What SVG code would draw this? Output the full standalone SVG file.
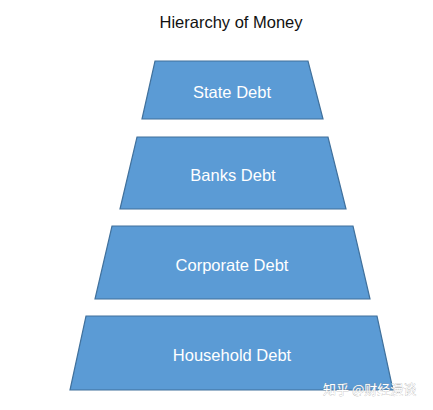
<svg xmlns="http://www.w3.org/2000/svg" width="433" height="410" viewBox="0 0 433 410">
<style>
.tier{fill:#5B9BD5;stroke:#41719C;stroke-width:1.2}
.lbl{font-family:"Liberation Sans",Arial,sans-serif;font-size:16.5px;fill:#FFFFFF;text-anchor:middle}
.title{font-family:"Liberation Sans",Arial,sans-serif;font-size:16.5px;fill:#111111;text-anchor:middle}
.wm{font-family:"Noto Sans CJK SC",sans-serif;font-size:13px;fill:#FFFFFF;stroke:#9A9A9A;stroke-width:0.4;paint-order:stroke}
</style>
<rect width="433" height="410" fill="#FFFFFF"/>
<text class="title" x="231" y="28">Hierarchy of Money</text>
<g id="state-debt">
<polygon class="tier" points="155,61 308,61 323,119 142,119"/>
<text class="lbl" x="232" y="98">State Debt</text>
</g>
<g id="banks-debt">
<polygon class="tier" points="137,137 328,137 346,209 120,209"/>
<text class="lbl" x="233" y="181">Banks Debt</text>
</g>
<g id="corporate-debt">
<polygon class="tier" points="112,226 353,226 370,299 95,299"/>
<text class="lbl" x="232" y="271">Corporate Debt</text>
</g>
<g id="household-debt">
<polygon class="tier" points="86,316 377,316 393,390 70,390"/>
<text class="lbl" x="232" y="361">Household Debt</text>
</g>
<g id="connectors"></g>
<text class="wm" x="323" y="394">知乎 @财经漫谈</text>
</svg>
